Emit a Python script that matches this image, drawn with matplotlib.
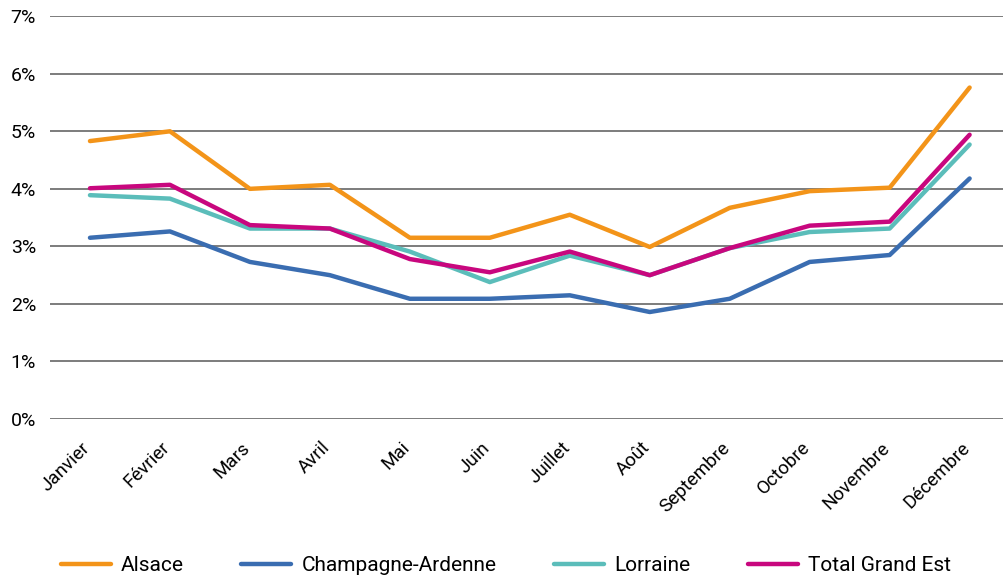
import matplotlib.pyplot as plt
from matplotlib.transforms import ScaledTranslation

plt.rcParams['font.family'] = ['Roboto', 'DejaVu Sans']

mois = ["Janvier", "Février", "Mars", "Avril", "Mai", "Juin", "Juillet",
        "Août", "Septembre", "Octobre", "Novembre", "Décembre"]

alsace = [4.83, 5.00, 4.00, 4.07, 3.15, 3.15, 3.55, 2.99, 3.67, 3.96, 4.02, 5.76]
champagne = [3.15, 3.26, 2.73, 2.50, 2.09, 2.09, 2.15, 1.86, 2.09, 2.73, 2.85, 4.18]
lorraine = [3.89, 3.83, 3.31, 3.31, 2.91, 2.38, 2.84, 2.50, 2.97, 3.25, 3.31, 4.77]
total = [4.01, 4.07, 3.37, 3.31, 2.78, 2.55, 2.91, 2.50, 2.97, 3.36, 3.43, 4.94]

series = [
    ("Alsace", alsace, "#F39419"),
    ("Champagne-Ardenne", champagne, "#3A6DB1"),
    ("Lorraine", lorraine, "#5BBDBA"),
    ("Total Grand Est", total, "#C8077E"),
]

fig = plt.figure(figsize=(10.04, 5.78), dpi=100)
ax = fig.add_axes([0.0498, 0.275, 0.9502, 0.697])

x = list(range(len(mois)))
for nom, vals, col in series:
    ax.plot(x, vals, color=col, lw=3.2, label=nom, solid_capstyle="round")

ax.set_ylim(0, 7)
ax.set_xlim(-0.5, 11.43)
ax.set_yticks(range(0, 8))
ax.set_yticklabels([f"{v}%" for v in range(0, 8)], fontsize=14)
ax.set_xticks(x)
ax.set_xticklabels(mois, rotation=45, ha="right", rotation_mode="anchor", fontsize=13.5)
ax.tick_params(length=0)
ax.tick_params(axis="x", pad=14)
ax.tick_params(axis="y", pad=10)
# petit décalage vers la gauche des mois
decal = ScaledTranslation(-9 / 100, 0, fig.dpi_scale_trans)
for lab in ax.get_xticklabels():
    lab.set_transform(lab.get_transform() + decal)
ax.grid(axis="y", color="#666666", lw=1.2)
ax.set_axisbelow(True)
for s in ax.spines.values():
    s.set_visible(False)

fig.legend(loc="center", bbox_to_anchor=(0.504, 0.021), ncol=4, frameon=False,
           fontsize=15, handlelength=2.4, columnspacing=2.75, handletextpad=0.5,
           borderpad=0, borderaxespad=0)

fig.savefig("out.png", dpi=100)
